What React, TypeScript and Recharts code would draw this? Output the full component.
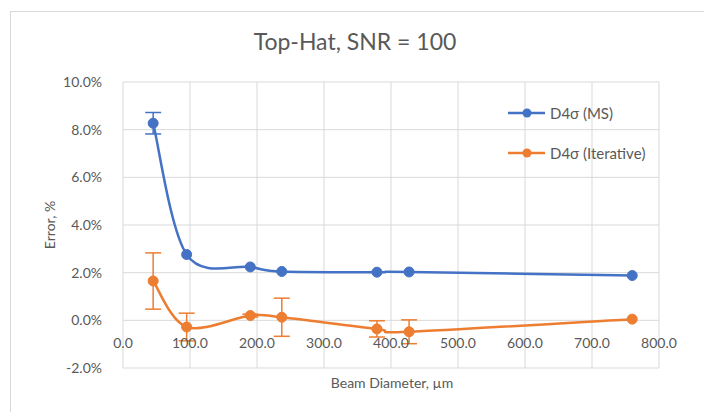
import React from "react";
import {
  LineChart,
  Line,
  XAxis,
  YAxis,
  CartesianGrid,
  ErrorBar,
} from "recharts";

const diameters = [45, 95, 190, 237, 379, 427, 760];
const msValues = [8.27, 2.76, 2.24, 2.05, 2.02, 2.03, 1.88];
const msErrors = [0.45, 0, 0, 0, 0, 0, 0];
const iterValues = [1.65, -0.28, 0.2, 0.13, -0.36, -0.48, 0.05];
const iterErrors = [1.18, 0.58, 0.06, 0.8, 0.34, 0.5, 0];

const xTicks = [0, 100, 200, 300, 400, 500, 600, 700, 800];
const yTicks = [-2, 0, 2, 4, 6, 8, 10];

const BLUE = "#4472C4";
const ORANGE = "#ED7D31";
const TEXT = "#595959";
const FONT = "Lato, 'Open Sans', sans-serif";

const data = diameters.map((d, i) => ({
  d,
  ms: msValues[i],
  msErr: msErrors[i],
  iter: iterValues[i],
  iterErr: iterErrors[i],
}));

// Excel-style smoothed line (catmull-rom, 1/6 tangents)
const excelSmooth = (ctx: any) => {
  let pts: number[][] = [];
  return {
    areaStart() {},
    areaEnd() {},
    lineStart() {
      pts = [];
    },
    point(x: number, y: number) {
      pts.push([x, y]);
    },
    lineEnd() {
      if (!pts.length) return;
      ctx.moveTo(pts[0][0], pts[0][1]);
      for (let i = 0; i < pts.length - 1; i++) {
        const p0 = pts[i - 1] || pts[i];
        const p1 = pts[i];
        const p2 = pts[i + 1];
        const p3 = pts[i + 2] || p2;
        ctx.bezierCurveTo(
          p1[0] + (p2[0] - p0[0]) / 6,
          p1[1] + (p2[1] - p0[1]) / 6,
          p2[0] - (p3[0] - p1[0]) / 6,
          p2[1] - (p3[1] - p1[1]) / 6,
          p2[0],
          p2[1]
        );
      }
    },
  };
};

// x labels sit on the 0% line, like Excel's axis crossing
const XTick = (props: any) => {
  const { x, y, payload } = props;
  return (
    <text x={x} y={y - 28} textAnchor="middle" fill={TEXT} fontSize={14} fontFamily={FONT}>
      {payload.value.toFixed(1)}
    </text>
  );
};

const legendItems = [
  { c: BLUE, t: "D4σ (MS)" },
  { c: ORANGE, t: "D4σ (Iterative)" },
];

export default function App() {
  return (
    <div style={{ position: "relative", width: 704, height: 412, background: "#fff", fontFamily: FONT }}>
      <style>{"body{margin:0}"}</style>
      <div
        style={{
          position: "absolute",
          left: 10,
          top: 11,
          right: -2,
          bottom: -2,
          borderLeft: "1px solid #d9d9d9",
          borderTop: "1px solid #d9d9d9",
        }}
      />
      <div
        style={{
          position: "absolute",
          top: 27,
          left: 0,
          width: 710,
          textAlign: "center",
          fontSize: 23,
          color: TEXT,
        }}
      >
        Top-Hat, SNR = 100
      </div>
      <div
        style={{
          position: "absolute",
          left: 49,
          top: 225,
          transform: "translate(-50%, -50%) rotate(-90deg)",
          fontSize: 14,
          color: TEXT,
          whiteSpace: "nowrap",
        }}
      >
        Error, %
      </div>
      <div
        style={{
          position: "absolute",
          left: 392,
          top: 382,
          transform: "translate(-50%, -50%)",
          fontSize: 14,
          color: TEXT,
          whiteSpace: "nowrap",
        }}
      >
        Beam Diameter, µm
      </div>
      <div style={{ position: "absolute", left: 0, top: 0 }}>
        <LineChart width={704} height={412} data={data} margin={{ top: 82, right: 45, left: 0, bottom: 14 }}>
          <CartesianGrid stroke="#d9d9d9" strokeWidth={1} />
          <XAxis
            dataKey="d"
            type="number"
            domain={[0, 800]}
            ticks={xTicks}
            axisLine={false}
            tickLine={false}
            tick={<XTick />}
            height={30}
          />
          <YAxis
            type="number"
            domain={[-2, 10]}
            ticks={yTicks}
            axisLine={false}
            tickLine={false}
            width={123}
            tickMargin={15}
            tick={{ fill: TEXT, fontSize: 14, fontFamily: FONT }}
            tickFormatter={(v: number) => `${v.toFixed(1)}%`}
          />
          <Line
            type={excelSmooth as any}
            dataKey="ms"
            stroke={BLUE}
            strokeWidth={2.5}
            dot={{ r: 5, fill: BLUE, stroke: BLUE, strokeWidth: 1 }}
            isAnimationActive={false}
          >
            <ErrorBar dataKey="msErr" direction="y" width={8} stroke={BLUE} strokeWidth={1.5} />
          </Line>
          <Line
            type={excelSmooth as any}
            dataKey="iter"
            stroke={ORANGE}
            strokeWidth={2.5}
            dot={{ r: 5, fill: ORANGE, stroke: ORANGE, strokeWidth: 1 }}
            isAnimationActive={false}
          >
            <ErrorBar dataKey="iterErr" direction="y" width={8} stroke={ORANGE} strokeWidth={1.5} />
          </Line>
        </LineChart>
      </div>
      <div
        style={{
          position: "absolute",
          left: 508,
          top: 93,
          fontSize: 15,
          color: TEXT,
        }}
      >
        {legendItems.map((it, i) => (
          <div key={i} style={{ display: "flex", alignItems: "center", height: 40 }}>
            <svg width={42} height={12}>
              <line x1={0} y1={6} x2={37} y2={6} stroke={it.c} strokeWidth={2.5} />
              <circle cx={19} cy={6} r={4.5} fill={it.c} />
            </svg>
            <span>{it.t}</span>
          </div>
        ))}
      </div>
    </div>
  );
}
